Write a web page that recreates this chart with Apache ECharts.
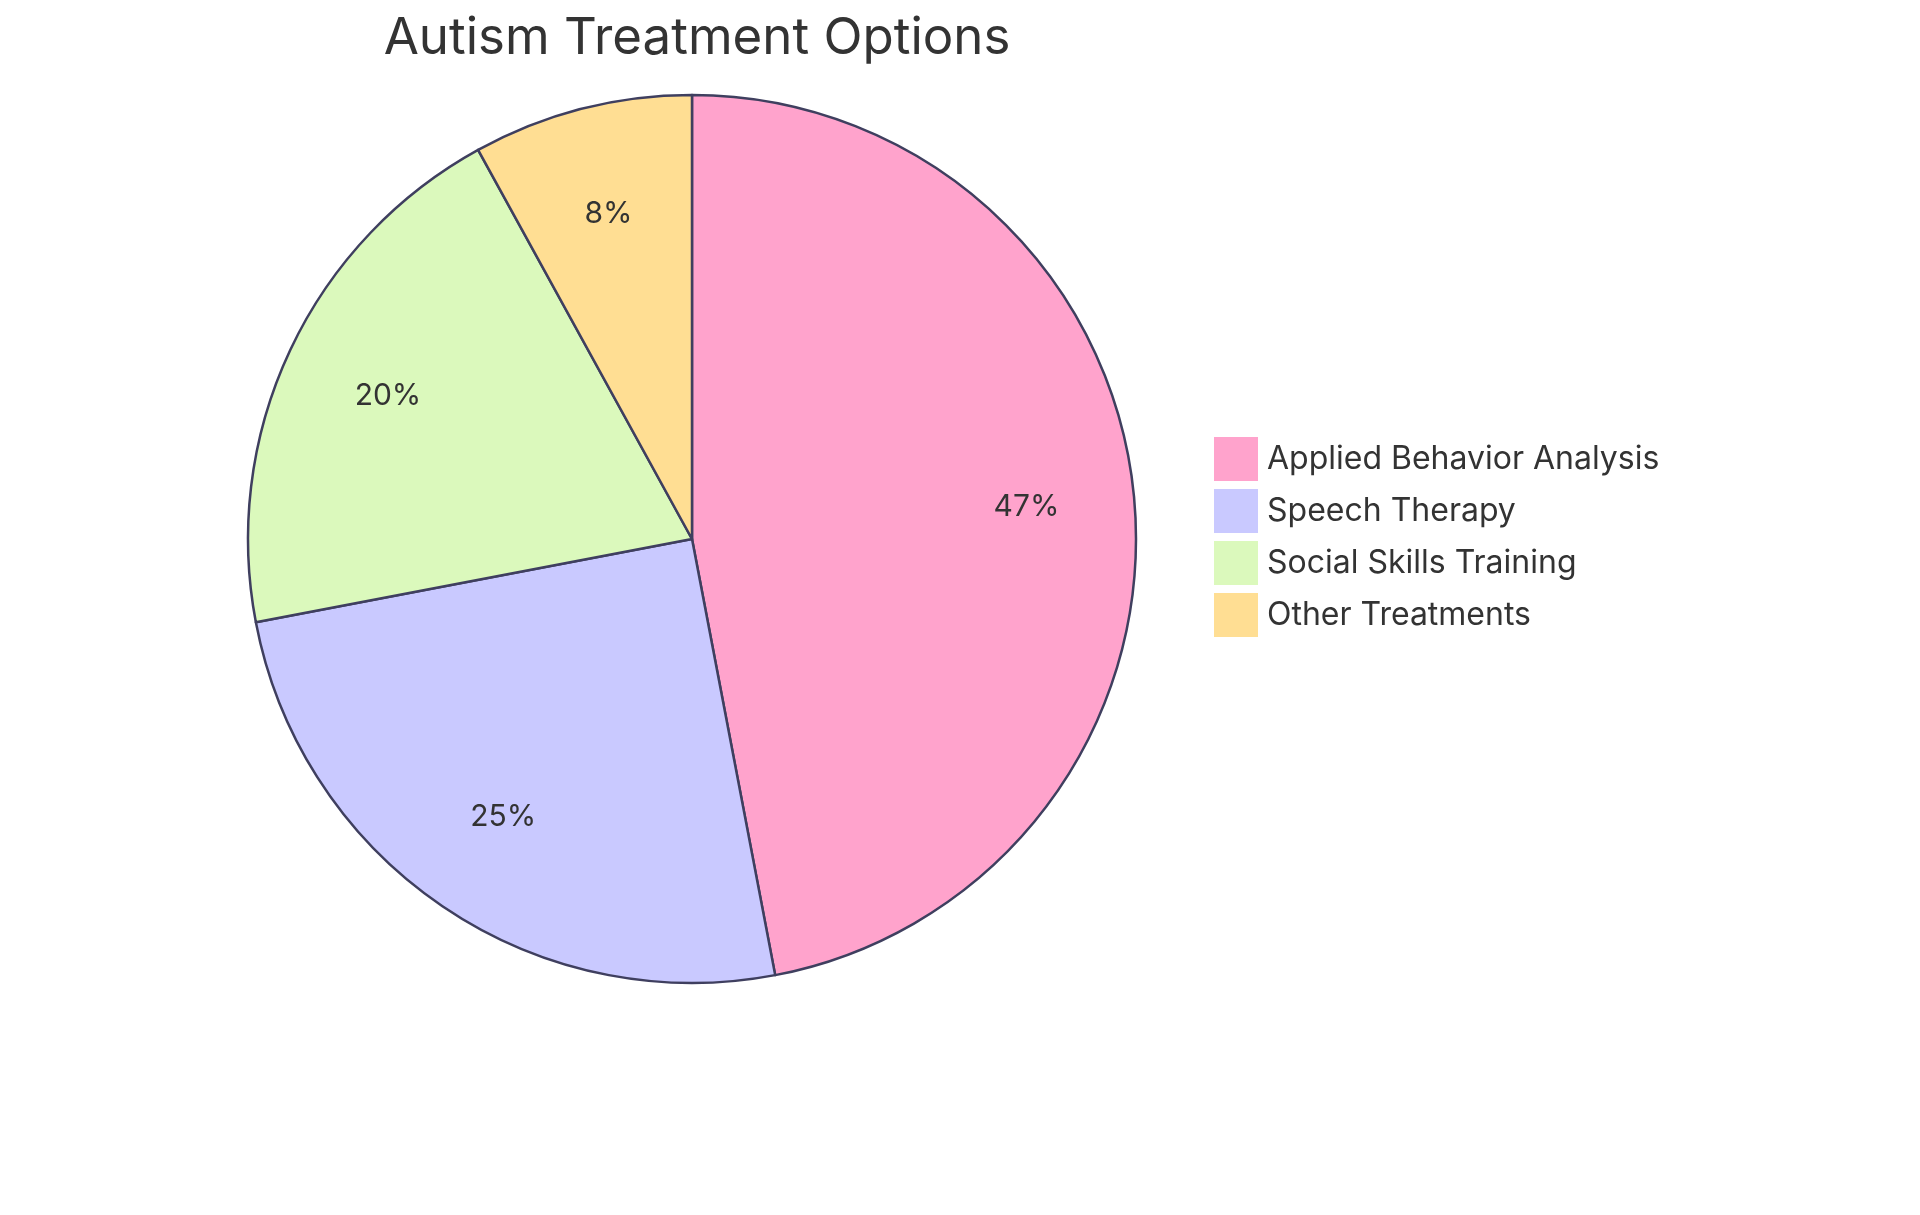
<!DOCTYPE html>
<html lang="en">
<head>
<meta charset="UTF-8">
<title>Autism Treatment Options</title>
<script src="https://cdn.jsdelivr.net/npm/echarts@6/dist/echarts.min.js"></script>
<style>html,body{margin:0;padding:0;background:#fff}</style>
</head>
<body>
<div id="main" style="width:1920px;height:1215px"></div>
<script type="text/javascript">
var categories = ['Applied Behavior Analysis', 'Speech Therapy', 'Social Skills Training', 'Other Treatments'];
var values = [47, 25, 20, 8];
var colors = ['#FFA3CC', '#C9C9FF', '#DBF9BC', '#FFDE93'];

var chart = echarts.init(document.getElementById('main'));
var data = categories.map(function (c, i) {
    return { name: c, value: values[i], itemStyle: { color: colors[i] } };
});
var center = [692, 539];
var font = 'Inter, "Noto Sans", sans-serif';

chart.setOption({
    title: {
        text: 'Autism Treatment Options',
        left: 692, top: 8, textAlign: 'center',
        textStyle: { fontFamily: font, fontSize: 51, fontWeight: 'normal', color: '#333' }
    },
    legend: {
        orient: 'vertical', left: 1209, top: 432,
        itemWidth: 44, itemHeight: 44, itemGap: 8,
        icon: 'rect',
        itemStyle: { borderWidth: 0 },
        textStyle: { fontFamily: font, fontSize: 32, color: '#333', padding: [0, 0, 0, 4] },
        data: categories
    },
    series: [
        {
            type: 'pie', radius: 444, center: center,
            startAngle: 90, clockwise: true,
            label: { show: false }, labelLine: { show: false },
            itemStyle: { borderColor: '#3f3f5f', borderWidth: 2.5 },
            emphasis: { disabled: true },
            data: data
        },
        {
            type: 'pie', radius: [222, 444], center: center,
            startAngle: 90, clockwise: true, silent: true,
            legendHoverLink: false,
            itemStyle: { color: 'rgba(0,0,0,0)', borderWidth: 0 },
            label: {
                show: true, position: 'inside', formatter: '{c}%',
                fontFamily: font, fontSize: 30, color: '#333'
            },
            labelLine: { show: false },
            data: categories.map(function (c, i) { return { name: c + ' ', value: values[i] }; })
        }
    ]
});
</script>
</body>
</html>
